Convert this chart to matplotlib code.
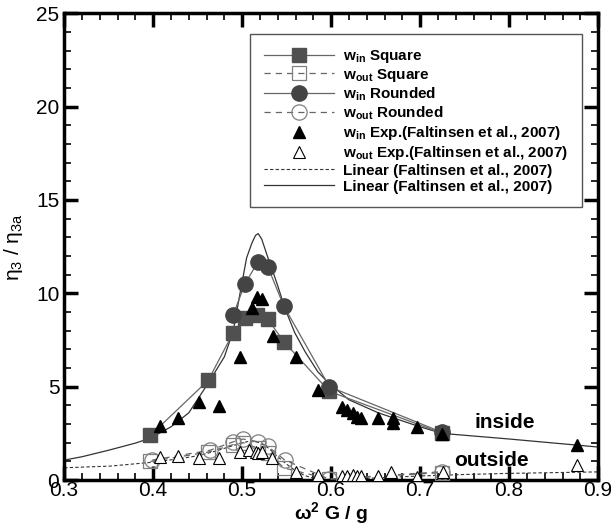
import numpy as np
import matplotlib
matplotlib.use("Agg")
from matplotlib import pyplot as plt
from matplotlib.ticker import MultipleLocator

plt.rcParams['font.family'] = ['Liberation Sans', 'DejaVu Sans']
plt.rcParams['mathtext.fontset'] = 'custom'
plt.rcParams['mathtext.rm'] = 'Liberation Sans'
plt.rcParams['mathtext.bf'] = 'Liberation Sans:bold'
plt.rcParams['mathtext.it'] = 'Liberation Sans:italic'

# w_in, square section
win_sq_x = [0.397, 0.462, 0.490, 0.503, 0.517, 0.529, 0.547, 0.598, 0.725]
win_sq_y = [2.4, 5.35, 7.9, 8.7, 8.85, 8.6, 7.4, 4.75, 2.5]
# w_out, square section
wout_sq_x = [0.397, 0.462, 0.490, 0.501, 0.518, 0.529, 0.547, 0.598, 0.725]
wout_sq_y = [1.0, 1.5, 1.9, 2.0, 1.7, 1.45, 0.65, 0.05, 0.4]
# w_in, rounded section
win_rd_x = [0.490, 0.503, 0.518, 0.529, 0.547, 0.598, 0.725]
win_rd_y = [8.85, 10.5, 11.7, 11.4, 9.3, 5.0, 2.55]
# w_out, rounded section
wout_rd_x = [0.399, 0.464, 0.490, 0.501, 0.518, 0.529, 0.548, 0.598, 0.725]
wout_rd_y = [1.07, 1.6, 2.05, 2.2, 2.05, 1.8, 1.07, 0.05, 0.45]

# experiments (Faltinsen et al., 2007)
win_exp_x = [0.408, 0.428, 0.451, 0.474, 0.498, 0.511, 0.517, 0.522, 0.535, 0.560, 0.585,
             0.612, 0.618, 0.624, 0.629, 0.633, 0.653, 0.669, 0.670, 0.696, 0.725, 0.876]
win_exp_y = [2.9, 3.3, 4.2, 3.95, 6.6, 9.2, 9.8, 9.7, 7.7, 6.6, 4.8,
             3.9, 3.75, 3.6, 3.4, 3.3, 3.3, 3.3, 3.05, 2.85, 2.45, 1.87]
wout_exp_x = [0.408, 0.428, 0.452, 0.474, 0.498, 0.508, 0.515, 0.518, 0.522, 0.534, 0.560,
              0.585, 0.612, 0.618, 0.624, 0.629, 0.633, 0.653, 0.667, 0.697, 0.726, 0.876]
wout_exp_y = [1.23, 1.28, 1.18, 1.18, 1.5, 1.6, 1.5, 1.45, 1.5, 1.18, 0.43,
              0.27, 0.2, 0.2, 0.25, 0.2, 0.2, 0.2, 0.43, 0.17, 0.43, 0.8]

# linear theory
lin_in_x = [0.3, 0.32, 0.35, 0.38, 0.397, 0.42, 0.44, 0.462, 0.48, 0.49, 0.498, 0.505,
            0.511, 0.515, 0.518, 0.522, 0.529, 0.535, 0.540, 0.548, 0.559, 0.571, 0.585,
            0.597, 0.62, 0.653, 0.7, 0.725, 0.8, 0.9]
lin_in_y = [1.07, 1.25, 1.6, 1.98, 2.25, 2.85, 3.6, 5.2, 6.6, 8.0, 10.1, 11.9,
            12.7, 13.1, 13.2, 12.9, 11.9, 11.1, 10.4, 9.2, 7.9, 6.85, 5.8,
            5.2, 4.3, 3.6, 2.85, 2.5, 2.2, 1.77]
lin_out_x = [0.3, 0.352, 0.4, 0.43, 0.45, 0.47, 0.49, 0.5, 0.51, 0.52, 0.53, 0.54, 0.55,
             0.56, 0.57, 0.58, 0.6, 0.62, 0.65, 0.7, 0.75, 0.8, 0.85, 0.9]
lin_out_y = [0.66, 0.75, 0.96, 1.15, 1.3, 1.55, 1.85, 2.0, 2.1, 2.0, 1.7, 1.25, 0.85,
             0.5, 0.25, 0.1, 0.02, 0.05, 0.12, 0.22, 0.3, 0.36, 0.4, 0.44]

fig = plt.figure(figsize=(6.11, 5.27), dpi=100)
ax = fig.add_axes([0.105, 0.089, 0.874, 0.886])

gray = '#666666'
ax.plot(win_sq_x, win_sq_y, '-', color=gray, lw=0.9, marker='s', ms=10,
        mfc='#505050', mec='#505050', label=r'$\mathbf{w_{in}}$ Square', zorder=3)
ax.plot(wout_sq_x, wout_sq_y, '--', color=gray, lw=0.9, marker='s', ms=10, dashes=(5, 4),
        mfc='none', mec='#808080', mew=0.9, label=r'$\mathbf{w_{out}}$ Square', zorder=3)
ax.plot(win_rd_x, win_rd_y, '-', color=gray, lw=0.9, marker='o', ms=11,
        mfc='#444444', mec='#444444', label=r'$\mathbf{w_{in}}$ Rounded', zorder=3)
ax.plot(wout_rd_x, wout_rd_y, '--', color=gray, lw=0.9, marker='o', ms=11, dashes=(5, 4),
        mfc='none', mec='#808080', mew=0.9, label=r'$\mathbf{w_{out}}$ Rounded', zorder=3)
ax.plot(win_exp_x, win_exp_y, linestyle='none', marker='^', ms=9, color='black',
        label=r'$\mathbf{w_{in}}$ Exp.(Faltinsen et al., 2007)', zorder=4)
ax.plot(wout_exp_x, wout_exp_y, linestyle='none', marker='^', ms=9, mfc='white',
        mec='black', mew=0.8, label=r'$\mathbf{w_{out}}$ Exp.(Faltinsen et al., 2007)', zorder=4)
ax.plot(lin_out_x, lin_out_y, '--', color='#333333', lw=0.8, dashes=(3, 2),
        label='Linear (Faltinsen et al., 2007)', zorder=2)
ax.plot(lin_in_x, lin_in_y, '-', color='#333333', lw=0.9,
        label='Linear (Faltinsen et al., 2007)', zorder=2)

ax.text(0.795, 3.1, 'inside', fontsize=15, fontweight='bold', ha='center', va='center')
ax.text(0.78, 1.05, 'outside', fontsize=15, fontweight='bold', ha='center', va='center')

ax.set_xlim(0.3, 0.9)
ax.set_ylim(0, 25)
ax.xaxis.set_major_locator(MultipleLocator(0.1))
ax.xaxis.set_minor_locator(MultipleLocator(0.02))
ax.yaxis.set_major_locator(MultipleLocator(5))
ax.yaxis.set_minor_locator(MultipleLocator(1))
ax.xaxis.set_major_formatter(plt.FuncFormatter(lambda v, p: '%g' % round(v, 2)))
ax.tick_params(which='both', direction='in', top=True, right=True, labelsize=15, width=1.2)
ax.tick_params(which='major', length=10, width=2.5)
ax.tick_params(axis='x', pad=1)
ax.tick_params(which='minor', length=5)
for s in ax.spines.values():
    s.set_linewidth(2.5)

ax.set_xlabel(r'$\mathbf{\omega^2}$ G / g', fontsize=14, fontweight='bold', labelpad=0)
ax.set_ylabel(r'η$_3$ / η$_{\mathrm{3a}}$', fontsize=15, labelpad=8)

leg = ax.legend(loc='upper left', bbox_to_anchor=(0.348, 0.955),
                prop={'weight': 'bold', 'size': 11}, handlelength=4.6, handletextpad=0.6,
                labelspacing=0.12, fancybox=False, edgecolor='#555555', borderpad=0.9,
                borderaxespad=0, framealpha=1)
leg.get_frame().set_linewidth(1.0)

plt.savefig("out.png", dpi=100)
